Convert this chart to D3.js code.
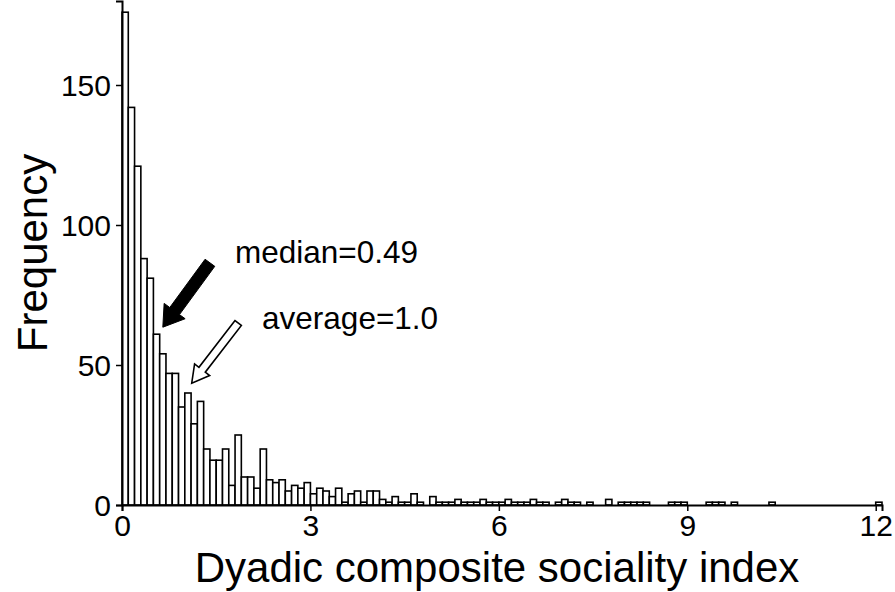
<!DOCTYPE html>
<html>
<head>
<meta charset="utf-8">
<script src="https://cdn.jsdelivr.net/npm/d3@7"></script>
<style>
  body { margin: 0; background: #fff; }
  text { font-family: "Liberation Sans", Arial, sans-serif; fill: #000; }
</style>
</head>
<body>
<script>
const width = 895
const height = 592
const binWidth = 0.1

// counts per 0.1 bin, starting at 0
const counts = [
  176, 142, 121, 88, 81, 61, 54, 47, 47, 35,
  40, 29, 37, 20, 16, 16, 20, 7, 25, 10,
  10, 6, 20, 9, 8, 9, 5, 7, 6, 8,
  4, 6, 5, 3, 6, 1, 4, 5, 1, 5,
  5, 2, 1, 3, 1, 1, 4, 1, 0, 3,
  1, 1, 1, 2, 1, 1, 1, 2, 1, 1,
  1, 2, 1, 1, 1, 2, 1, 1, 0, 1,
  2, 1, 1, 0, 1, 0, 0, 2, 0, 1,
  1, 1, 1, 1, 0, 0, 0, 1, 1, 1,
  0, 0, 0, 1, 1, 1, 0, 1, 0, 0,
  0, 0, 0, 1, 0, 0, 0, 0, 0, 0,
  0, 0, 0, 0, 0, 0, 0, 0, 0, 0,
  1
]
const xTicks = [0, 3, 6, 9, 12]
const yTicks = [0, 50, 100, 150]

// arrows in data units: [tail, tip]
const arrows = [
  { label: 'median=0.49', tail: [1.40, 86.5], tip: [0.65, 63.5], filled: true, text: [1.80, 86.5] },
  { label: 'average=1.0', tail: [1.85, 65], tip: [1.11, 43.5], filled: false, text: [2.23, 63] }
]

const bins = counts.map((c, i) => ({ x0: i * binWidth, x1: (i + 1) * binWidth, n: c }))

const x = d3.scaleLinear().domain([0, counts.length * binWidth]).range([122, 882])
const y = d3.scaleLinear().domain([0, 180]).range([505, 1])

const svg = d3.select('body').append('svg')
  .attr('width', width)
  .attr('height', height)

// bars
svg.append('g').selectAll('rect')
  .data(bins)
  .enter().append('rect')
  .attr('x', d => x(d.x0))
  .attr('y', d => y(d.n))
  .attr('width', d => x(d.x1) - x(d.x0))
  .attr('height', d => y(0) - y(d.n))
  .attr('fill', '#fff')
  .attr('stroke', '#000')
  .attr('stroke-width', 1.6)

// axes
const xAxis = svg.append('g')
  .attr('transform', `translate(0,${y(0)})`)
  .call(d3.axisBottom(x).tickValues(xTicks).tickSize(6).tickPadding(4).tickFormat(d3.format('d')))
const yAxis = svg.append('g')
  .attr('transform', `translate(${x(0)},0)`)
  .call(d3.axisLeft(y).tickValues(yTicks).tickSize(6).tickPadding(5))

;[xAxis, yAxis].forEach(a => {
  a.select('.domain').attr('stroke', '#000').attr('stroke-width', 2)
  a.selectAll('.tick line').attr('stroke', '#000').attr('stroke-width', 1.5)
  a.selectAll('.tick text').attr('font-size', 30).attr('font-family', null).attr('fill', '#000')
})
yAxis.selectAll('.tick text').attr('dy', '0.36em')

// axis titles
svg.append('text')
  .attr('x', 497)
  .attr('y', 582)
  .attr('text-anchor', 'middle')
  .attr('font-size', 42)
  .text('Dyadic composite sociality index')

svg.append('text')
  .attr('transform', `translate(47,${(y(0) + y(180)) / 2}) rotate(-90)`)
  .attr('text-anchor', 'middle')
  .attr('font-size', 42)
  .text('Frequency')

// arrows
function arrowPath(a, shaft, headW, headL) {
  const [tx, ty] = [x(a.tail[0]), y(a.tail[1])]
  const [px, py] = [x(a.tip[0]), y(a.tip[1])]
  const len = Math.hypot(px - tx, py - ty)
  const ux = (px - tx) / len, uy = (py - ty) / len
  const nx = -uy, ny = ux
  const bx = px - ux * headL, by = py - uy * headL
  const pts = [
    [tx + nx * shaft / 2, ty + ny * shaft / 2],
    [bx + nx * shaft / 2, by + ny * shaft / 2],
    [bx + nx * headW / 2, by + ny * headW / 2],
    [px, py],
    [bx - nx * headW / 2, by - ny * headW / 2],
    [bx - nx * shaft / 2, by - ny * shaft / 2],
    [tx - nx * shaft / 2, ty - ny * shaft / 2]
  ]
  return 'M' + pts.map(p => p.join(',')).join('L') + 'Z'
}

const ann = svg.append('g')
arrows.forEach(a => {
  ann.append('path')
    .attr('d', a.filled ? arrowPath(a, 12, 26, 20) : arrowPath(a, 8, 19, 17))
    .attr('fill', a.filled ? '#000' : '#fff')
    .attr('stroke', '#000')
    .attr('stroke-width', a.filled ? 1 : 1.6)
    .attr('stroke-linejoin', 'miter')
  ann.append('text')
    .attr('x', x(a.text[0]))
    .attr('y', y(a.text[1]))
    .attr('font-size', 31.5)
    .text(a.label)
})
</script>
</body>
</html>
